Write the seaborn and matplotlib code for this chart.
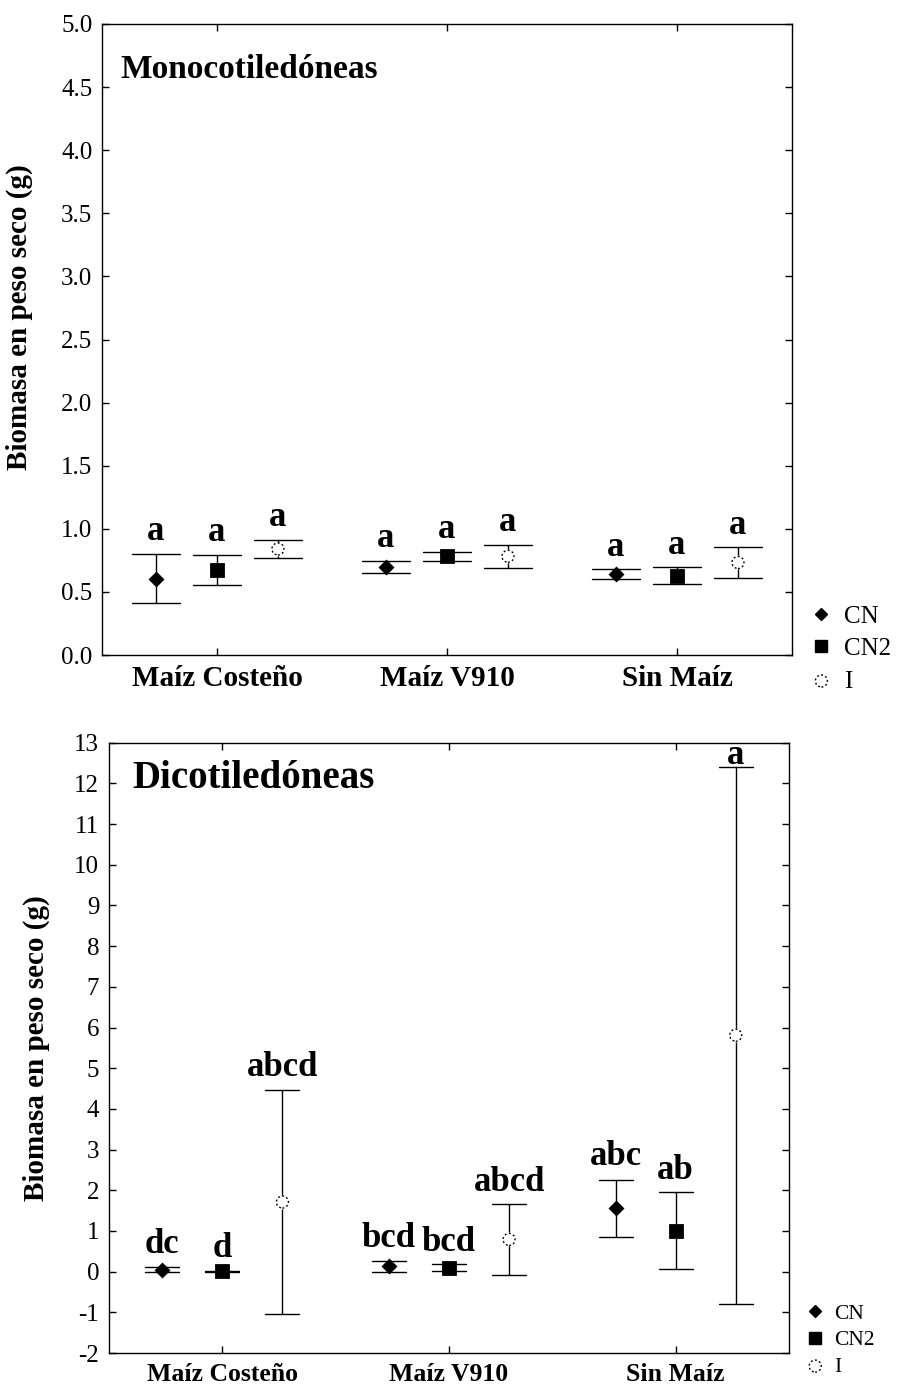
import matplotlib
matplotlib.use("Agg")
import matplotlib.pyplot as plt
import numpy as np
import pandas as pd
import seaborn as sns

groups = ["Maíz Costeño", "Maíz V910", "Sin Maíz"]
treatments = ["CN", "CN2", "I"]

# Monocotiledóneas: media y semiamplitud del intervalo
mono_cn_mean = [0.605, 0.697, 0.641]
mono_cn_err = [0.195, 0.050, 0.040]
mono_cn2_mean = [0.672, 0.782, 0.628]
mono_cn2_err = [0.120, 0.035, 0.068]
mono_i_mean = [0.840, 0.782, 0.733]
mono_i_err = [0.075, 0.090, 0.120]
mono_letters = [["a", "a", "a"], ["a", "a", "a"], ["a", "a", "a"]]  # por tratamiento
mono_gap = [[4, 4, 4], [4, 4, 4], [4, 4, 4]]

# Dicotiledóneas
dico_cn_mean = [0.05, 0.13, 1.56]
dico_cn_err = [0.065, 0.13, 0.70]
dico_cn2_mean = [0.01, 0.10, 1.01]
dico_cn2_err = [0.01, 0.08, 0.935]
dico_i_mean = [1.71, 0.79, 5.81]
dico_i_err = [2.76, 0.87, 6.60]
dico_letters = [["dc", "bcd", "abc"], ["d", "bcd", "ab"], ["abcd", "abcd", "a"]]
dico_gap = [[4, 4, 5], [4, 4, 4], [4, 4, -4]]

mono_ticks = [0.0, 0.5, 1.0, 1.5, 2.0, 2.5, 3.0, 3.5, 4.0, 4.5, 5.0]
dico_ticks = list(range(-2, 14))


def make_frame(means, errs):
    rows = []
    for trat, m, e in zip(treatments, means, errs):
        for g, mi, ei in zip(groups, m, e):
            rows.append({"grupo": g, "trat": trat, "valor": mi - ei})
            rows.append({"grupo": g, "trat": trat, "valor": mi + ei})
    return pd.DataFrame(rows)


sns.set_theme(style="ticks")
plt.rcParams["font.family"] = ["Liberation Serif", "DejaVu Serif"]
plt.rcParams["axes.unicode_minus"] = False
plt.rcParams["axes.linewidth"] = 1.0
for k in ["axes.edgecolor", "text.color", "axes.labelcolor", "xtick.color", "ytick.color"]:
    plt.rcParams[k] = "black"


def panel(ax, means, errs, letters, gaps, title, ticks, ylim, fmt, capsize, sizes):
    df = make_frame(means, errs)
    pal = {t: "black" for t in treatments}
    sns.pointplot(data=df, x="grupo", y="valor", hue="trat", order=groups,
                  hue_order=treatments, palette=pal, markers=["D", "s", "o"],
                  linestyle="none", dodge=0.53, errorbar=lambda v: (v.min(), v.max()),
                  capsize=capsize, err_kws={"linewidth": 1.0}, markersize=9,
                  legend=False, ax=ax)

    # posiciones de cada tratamiento según el marcador
    pos = {}
    for line in ax.lines:
        mk = line.get_marker()
        if mk == "D":
            line.set_markersize(6.5)
            line.set_zorder(5)
            pos["CN"] = line.get_xydata()
        elif mk == "s":
            line.set_markersize(9)
            line.set_zorder(5)
            pos["CN2"] = line.get_xydata()
        elif mk == "o":
            line.set_markersize(8)
            line.set_markerfacecolor("white")
            line.set_markeredgecolor("white")
            line.set_zorder(5)
            pos["I"] = line.get_xydata()
    sc = ax.scatter(pos["I"][:, 0], pos["I"][:, 1], s=75, marker="o",
                    facecolors="none", edgecolors="black", linewidths=1.0,
                    linestyles=(0, (1.4, 1.7)), zorder=6)

    for k, trat in enumerate(treatments):
        for j in range(len(groups)):
            top = means[k][j] + errs[k][j]
            ax.annotate(letters[k][j], (pos[trat][j, 0], top), xytext=(0, gaps[k][j]),
                        textcoords="offset points", ha="center", va="bottom",
                        fontsize=sizes["letters"], fontweight="bold")

    ax.set_xlim(-0.5, 2.5)
    ax.set_ylim(*ylim)
    ax.set_yticks(ticks)
    ax.set_yticklabels([fmt.format(t) for t in ticks], fontsize=sizes["ticks"])
    ax.set_xticks(range(len(groups)))
    ax.set_xticklabels(groups, fontsize=sizes["xlab"], fontweight="bold")
    ax.tick_params(direction="in", top=True, right=True, length=5, width=1,
                   color="black", pad=7)
    ax.set_xlabel("")
    ax.set_ylabel("Biomasa en peso seco (g)", fontsize=sizes["ylab"], fontweight="bold")
    for s in ax.spines.values():
        s.set_visible(True)
        s.set_color("black")
    ax.text(sizes["tx"], sizes["ty"], title, transform=ax.transAxes,
            fontsize=sizes["title"], fontweight="bold", va="baseline", ha="left")

    handles = [
        plt.Line2D([], [], marker="D", color="black", linestyle="none", markersize=6),
        plt.Line2D([], [], marker="s", color="black", linestyle="none", markersize=8),
        sc,
    ]
    ax.legend(handles, treatments, loc="upper left", bbox_to_anchor=sizes["leg"],
              frameon=False, fontsize=sizes["legfont"], handletextpad=0.4,
              labelspacing=sizes["legspace"], handlelength=1.0, borderaxespad=0)


fig = plt.figure(figsize=(9.04, 13.91), dpi=100)
ax1 = fig.add_axes([102 / 904, 1 - 655 / 1391, 690 / 904, 631 / 1391])
ax2 = fig.add_axes([109 / 904, 1 - 1353 / 1391, 680 / 904, 610.3 / 1391])

panel(ax1, [mono_cn_mean, mono_cn2_mean, mono_i_mean],
      [mono_cn_err, mono_cn2_err, mono_i_err], mono_letters, mono_gap, "Monocotiledóneas",
      mono_ticks, (0, 5), "{:.1f}", 0.21,
      {"letters": 25, "ticks": 18, "xlab": 21, "ylab": 21, "title": 24,
       "tx": 0.026, "ty": 0.914, "leg": (1.01, 0.095), "legfont": 18, "legspace": 0.4})
ax1.yaxis.set_label_coords(-0.100, 0.535)

panel(ax2, [dico_cn_mean, dico_cn2_mean, dico_i_mean],
      [dico_cn_err, dico_cn2_err, dico_i_err], dico_letters, dico_gap, "Dicotiledóneas",
      dico_ticks, (-2, 13), "{:d}", 0.15,
      {"letters": 25, "ticks": 18, "xlab": 18.5, "ylab": 21, "title": 28,
       "tx": 0.034, "ty": 0.926, "leg": (1.01, 0.095), "legfont": 15.5, "legspace": 0.3})
ax2.yaxis.set_label_coords(-0.087, 0.5)

fig.savefig("out.png", dpi=100)
